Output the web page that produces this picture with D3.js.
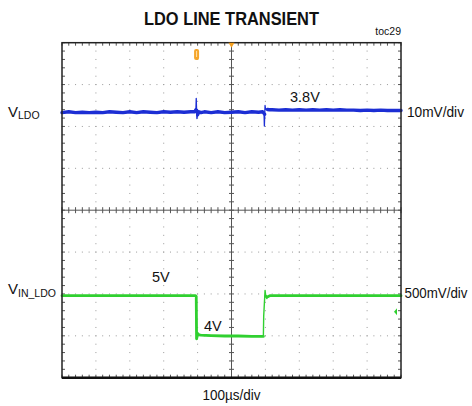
<!DOCTYPE html>
<html>
<head>
<meta charset="utf-8">
<script src="https://cdn.jsdelivr.net/npm/d3@7"></script>
<style>
  body { margin: 0; background: #fff; }
  text { font-family: "Liberation Sans", Arial, sans-serif; fill: #111; }
</style>
</head>
<body>
<div id="chart"></div>
<script>
// time axis in microseconds, 100us/div, trigger at centre
const timeDomain = [-500, 500];

// VLDO channel: deviation from 3.8V in mV
const blueTime = [-500,-480,-460,-440,-420,-400,-380,-360,-340,-320,-300,-280,-260,-240,-220,-200,-180,-160,-140,-120,
  -108,-105,-104,-103,-102,-100,-96,-90,
  -80,-60,-40,-20,0,20,40,60,80,
  92,96,97,98,99,100,102,106,112,
  120,140,160,180,200,220,240,260,280,300,320,340,360,380,400,420,440,460,480,500];
const blueMv = [-0.1,0.1,-0.1,0.0,-0.1,0.0,-0.1,0.1,0.0,-0.1,0.1,-0.1,0.1,0.0,-0.1,0.1,0.0,0.1,0.0,0.1,
  0.1,0.6,3.3,0.5,-1.5,-0.6,0.1,-0.1,
  0.1,-0.1,0.1,-0.1,0.0,0.1,-0.1,0.1,0.0,
  0.1,-0.3,-3.3,-0.5,1.6,1.0,0.7,0.65,0.6,
  0.6,0.5,0.6,0.5,0.6,0.5,0.6,0.5,0.6,0.5,0.6,0.5,0.5,0.4,0.5,0.4,0.5,0.4,0.4,0.4];

// VIN_LDO channel in volts
const greenTime = [-500,-400,-300,-200,-120,-106,-104,-103,-101,-99,-96,-90,-60,-20,20,60,92,94,95,99,101,104,108,113,150,250,350,450,500];
const greenV = [5.0,5.0,5.0,5.0,5.0,5.0,4.98,3.93,4.0,4.06,4.03,4.02,4.01,4.0,4.0,3.99,3.99,3.99,4.5,5.13,4.99,4.93,4.98,5.0,5.0,5.0,5.0,5.0,5.0];

const triggerTime = -103;   // orange marker
const triggerLevel = 4.6;   // green arrow on right edge

const labels = {
  title: "LDO LINE TRANSIENT",
  toc: "toc29",
  blueVal: "3.8V",
  blueScale: "10mV/div",
  greenHigh: "5V",
  greenLow: "4V",
  greenScale: "500mV/div",
  timeScale: "100\u00b5s/div"
};

const W = 472, H = 406;
const plot = { left: 62, right: 401, top: 42.7, bottom: 377.7 };

const svg = d3.select("#chart").append("svg")
  .attr("width", W).attr("height", H);

const x = d3.scaleLinear().domain(timeDomain).range([plot.left, plot.right]);
const xDiv = d3.scaleLinear().domain([-5, 5]).range([plot.left, plot.right]);
const yDiv = d3.scaleLinear().domain([-4, 4]).range([plot.bottom, plot.top]);
// channel scales (screen is 8 divisions tall)
const yBlue = d3.scaleLinear().domain([-63.4, 16.6]).range([plot.bottom, plot.top]);
const yGreen = d3.scaleLinear().domain([2.965, 11.278]).range([plot.bottom, plot.top]);

// dotted grid
const grid = svg.append("g").attr("fill", "#9a9a9a");
d3.range(-3, 4).filter(d => d !== 0).forEach(k => {
  d3.range(-25, 26).forEach(m => {
    grid.append("rect").attr("x", xDiv(m / 5) - 0.5).attr("y", yDiv(k) - 0.5)
      .attr("width", 1).attr("height", 1);
  });
});
d3.range(-4, 5).filter(d => d !== 0).forEach(k => {
  d3.range(-20, 21).forEach(m => {
    grid.append("rect").attr("x", xDiv(k) - 0.5).attr("y", yDiv(m / 5) - 0.5)
      .attr("width", 1).attr("height", 1);
  });
});

// centre axes with minor ticks
const axes = svg.append("g").attr("stroke", "#555").attr("stroke-width", 1);
axes.append("line").attr("x1", plot.left).attr("x2", plot.right)
  .attr("y1", yDiv(0)).attr("y2", yDiv(0));
axes.append("line").attr("x1", xDiv(0)).attr("x2", xDiv(0))
  .attr("y1", plot.top).attr("y2", plot.bottom);
d3.range(-25, 26).forEach(m => {
  axes.append("line").attr("x1", xDiv(m / 5)).attr("x2", xDiv(m / 5))
    .attr("y1", yDiv(0) - 3).attr("y2", yDiv(0) + 3);
  axes.append("line").attr("x1", xDiv(m / 5)).attr("x2", xDiv(m / 5))
    .attr("y1", plot.top).attr("y2", plot.top + 3);
  axes.append("line").attr("x1", xDiv(m / 5)).attr("x2", xDiv(m / 5))
    .attr("y1", plot.bottom - 3).attr("y2", plot.bottom);
});
d3.range(-20, 21).forEach(m => {
  axes.append("line").attr("y1", yDiv(m / 5)).attr("y2", yDiv(m / 5))
    .attr("x1", xDiv(0) - 2.5).attr("x2", xDiv(0) + 2.5);
  axes.append("line").attr("y1", yDiv(m / 5)).attr("y2", yDiv(m / 5))
    .attr("x1", plot.left).attr("x2", plot.left + 3);
  axes.append("line").attr("y1", yDiv(m / 5)).attr("y2", yDiv(m / 5))
    .attr("x1", plot.right - 3).attr("x2", plot.right);
});

// traces: thin full trace + thick band on the flat parts
function trace(times, vals, yScale, color, flat, thin, thick) {
  const pts = d3.zip(times, vals);
  const g = svg.append("g").attr("fill", "none").attr("stroke", color)
    .attr("stroke-linejoin", "round").attr("stroke-linecap", "round");
  g.append("path").datum(pts)
    .attr("d", d3.line().x(d => x(d[0])).y(d => yScale(d[1])))
    .attr("stroke-width", thin);
  g.append("path").datum(pts)
    .attr("d", d3.line().defined(flat).x(d => x(d[0])).y(d => yScale(d[1])))
    .attr("stroke-width", thick);
}
trace(greenTime, greenV, yGreen, "#30d030",
  d => Math.abs(d[1] - 5) < 0.05 || Math.abs(d[1] - 4) < 0.07, 1.4, 2.8);
trace(blueTime, blueMv, yBlue, "#1c2ed4",
  d => Math.abs(d[1]) < 0.7, 1.3, 3.4);

// frame
svg.append("rect")
  .attr("x", plot.left).attr("y", plot.top)
  .attr("width", plot.right - plot.left).attr("height", plot.bottom - plot.top)
  .attr("fill", "none").attr("stroke", "#222").attr("stroke-width", 1.5);
svg.append("line").attr("x1", plot.left).attr("x2", plot.right)
  .attr("y1", plot.bottom).attr("y2", plot.bottom)
  .attr("stroke", "#111").attr("stroke-width", 2.5);

// markers
svg.append("path")
  .attr("d", `M${x(0) - 3},${plot.top} L${x(0) + 3},${plot.top} L${x(0)},${plot.top + 5} Z`)
  .attr("fill", "#f5a020");
svg.append("rect")
  .attr("x", x(triggerTime) - 2.5).attr("y", 49)
  .attr("width", 5).attr("height", 11).attr("rx", 2)
  .attr("fill", "#f5a52a");
svg.append("line")
  .attr("x1", x(triggerTime)).attr("x2", x(triggerTime))
  .attr("y1", 51).attr("y2", 57)
  .attr("stroke", "#ffe0a8").attr("stroke-width", 1);
const ty = yGreen(triggerLevel);
svg.append("path")
  .attr("d", `M${plot.right - 7},${ty} L${plot.right - 4},${ty - 3.5} L${plot.right - 4},${ty + 3.5} Z`)
  .attr("fill", "#30d030");

// texts
svg.append("text").attr("x", 231.5).attr("y", 25)
  .attr("text-anchor", "middle").attr("font-weight", "bold").attr("font-size", 18.5)
  .attr("textLength", 175).attr("lengthAdjust", "spacingAndGlyphs")
  .text(labels.title);
svg.append("text").attr("x", plot.right).attr("y", 34.5)
  .attr("text-anchor", "end").attr("font-size", 10.5).text(labels.toc);

const t1 = svg.append("text").attr("x", 8).attr("y", 117).attr("font-size", 15);
t1.append("tspan").text("V");
t1.append("tspan").attr("font-size", 10.5).attr("dy", 1.5).text("LDO");

const t2 = svg.append("text").attr("x", 8).attr("y", 294).attr("font-size", 15);
t2.append("tspan").text("V");
t2.append("tspan").attr("font-size", 10.5).attr("dy", 3).text("IN_LDO");

svg.append("text").attr("x", 407).attr("y", 117).attr("font-size", 14.5)
  .attr("textLength", 57).attr("lengthAdjust", "spacingAndGlyphs").text(labels.blueScale);
svg.append("text").attr("x", 404.5).attr("y", 298).attr("font-size", 14)
  .attr("textLength", 63).attr("lengthAdjust", "spacingAndGlyphs").text(labels.greenScale);
svg.append("text").attr("x", 290).attr("y", 101.5).attr("font-size", 14.5).text(labels.blueVal);
svg.append("text").attr("x", 152).attr("y", 281.5).attr("font-size", 14.5).text(labels.greenHigh);
svg.append("text").attr("x", 204).attr("y", 331).attr("font-size", 14.5).text(labels.greenLow);
svg.append("text").attr("x", 231.5).attr("y", 399.5).attr("text-anchor", "middle")
  .attr("font-size", 14.5).attr("textLength", 58).attr("lengthAdjust", "spacingAndGlyphs")
  .text(labels.timeScale);
</script>
</body>
</html>
